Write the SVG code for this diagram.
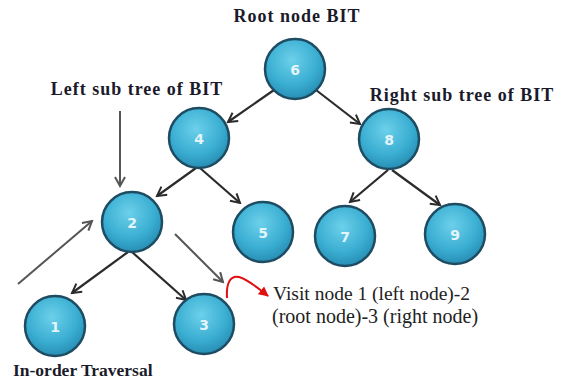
<svg xmlns="http://www.w3.org/2000/svg" width="564" height="383" viewBox="0 0 564 383">
<defs>
<radialGradient id="g" cx="0.45" cy="0.35" r="0.7">
<stop offset="0" stop-color="#6cd0ea"/>
<stop offset="0.6" stop-color="#3aaed2"/>
<stop offset="1" stop-color="#2487ad"/>
</radialGradient>
<marker id="ah" markerWidth="12" markerHeight="12" refX="10" refY="6" orient="auto" markerUnits="userSpaceOnUse">
<path d="M1,1 L10,6 L1,11" fill="none" stroke="#2b2b2b" stroke-width="2"/>
</marker>
<marker id="ahg" markerWidth="12" markerHeight="12" refX="10" refY="6" orient="auto" markerUnits="userSpaceOnUse">
<path d="M1,1 L10,6 L1,11" fill="none" stroke="#555" stroke-width="2"/>
</marker>
<marker id="ahr" markerWidth="12" markerHeight="12" refX="9" refY="6" orient="auto" markerUnits="userSpaceOnUse">
<path d="M0,1 L10,6 L0,11 Z" fill="#e01010"/>
</marker>
</defs>
<style>
.n circle{fill:url(#g);stroke:#1d4c63;stroke-width:2.5}
.n text{fill:#e3f5fb;font-family:"DejaVu Sans",sans-serif;font-size:14px;font-weight:bold;text-anchor:middle}
.e{stroke:#2b2b2b;stroke-width:2.2;fill:none;marker-end:url(#ah)}
.eg{stroke:#555;stroke-width:2;fill:none;marker-end:url(#ahg)}
.lb{font-family:"Liberation Serif",serif;font-weight:bold;font-size:18px;letter-spacing:1px;fill:#1a1a2a}
.tx{font-family:"Liberation Serif",serif;font-size:20px;fill:#222}
</style>
<rect width="564" height="383" fill="#fff"/>
<g id="labels">
<text class="lb" x="297" y="22" text-anchor="middle">Root node BIT</text>
<text class="lb" x="137" y="95" text-anchor="middle">Left sub tree of BIT</text>
<text class="lb" x="462" y="101" text-anchor="middle">Right sub tree of BIT</text>
<text class="lb" x="13" y="376" style="letter-spacing:0;font-size:17.5px">In-order Traversal</text>
<text class="tx" x="273" y="300" style="font-size:19.5px">Visit node 1 (left node)-2</text>
<text class="tx" x="272" y="323">(root node)-3 (right node)</text>
</g>
<g id="connectors">
<line class="e" x1="274" y1="90" x2="228" y2="122"/>
<line class="e" x1="316" y1="90" x2="360" y2="124"/>
<line class="e" x1="196" y1="168" x2="157" y2="196"/>
<line class="e" x1="200" y1="168" x2="240" y2="203"/>
<line class="e" x1="388" y1="170" x2="350" y2="202"/>
<line class="e" x1="392" y1="170" x2="440" y2="205"/>
<line class="e" x1="128" y1="252" x2="72" y2="293"/>
<line class="e" x1="132" y1="252" x2="186" y2="300"/>
<line class="eg" x1="120" y1="111" x2="120" y2="186"/>
<line class="eg" x1="18" y1="284" x2="92" y2="221"/>
<line class="eg" x1="175" y1="234" x2="223" y2="282"/>
<path d="M227,298 C226,282 231,275 239,277 C249,280 258,288 268,296" fill="none" stroke="#e01010" stroke-width="2" marker-end="url(#ahr)"/>
</g>
<g id="n6" class="n"><circle cx="295" cy="69" r="30"/><text x="295" y="75">6</text></g>
<g id="n4" class="n"><circle cx="199" cy="138" r="30"/><text x="199" y="144">4</text></g>
<g id="n8" class="n"><circle cx="389" cy="139" r="30"/><text x="389" y="145">8</text></g>
<g id="n2" class="n"><circle cx="132" cy="222" r="30"/><text x="132" y="228">2</text></g>
<g id="n5" class="n"><circle cx="263" cy="232" r="30"/><text x="263" y="238">5</text></g>
<g id="n7" class="n"><circle cx="345" cy="236" r="30"/><text x="345" y="242">7</text></g>
<g id="n9" class="n"><circle cx="455" cy="234" r="30"/><text x="455" y="240">9</text></g>
<g id="n1" class="n"><circle cx="55" cy="326" r="30"/><text x="55" y="332">1</text></g>
<g id="n3" class="n"><circle cx="204" cy="324" r="30"/><text x="204" y="330">3</text></g>
</svg>
